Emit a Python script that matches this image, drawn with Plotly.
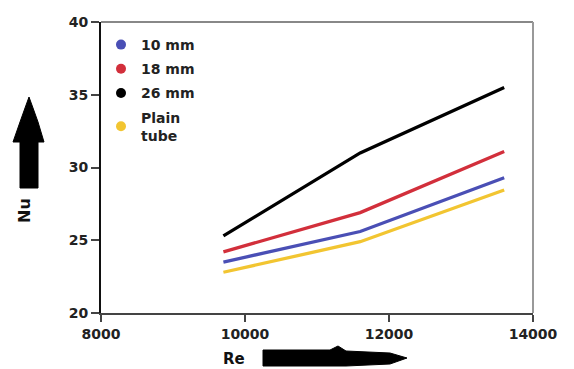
import plotly.graph_objects as go

re_vals = [9700, 11600, 13600]
nu_10mm = [23.5, 25.6, 29.3]
nu_18mm = [24.2, 26.9, 31.1]
nu_26mm = [25.3, 31.0, 35.5]
nu_plain = [22.8, 24.9, 28.45]

series_names = ["10 mm", "18 mm", "26 mm", "Plain<br>tube"]
series_colors = ["#4A4FB5", "#D22F3B", "#000000", "#F2C531"]
series_values = [nu_10mm, nu_18mm, nu_26mm, nu_plain]

x_ticks = [8000, 10000, 12000, 14000]
y_ticks = [20, 25, 30, 35, 40]

FONT = "DejaVu Sans"
fig = go.Figure()
for name, col, vals in zip(series_names, series_colors, series_values):
    fig.add_trace(go.Scatter(x=re_vals, y=vals, mode="lines",
                             line=dict(color=col, width=3.3), showlegend=False))
for i, (name, col) in enumerate(zip(series_names, series_colors)):
    fig.add_trace(go.Scatter(x=[None], y=[None], mode="markers", name=name,
                             marker=dict(color=col, size=10, symbol="circle"),
                             legendgroup=f"g{i}"))

W, H = 574, 369
L, R, T, B = 101, 41, 22, 56
pw, ph = W - L - R, H - T - B

def px(x):
    return (x - L) / pw

def py(y):
    return (H - B - y) / ph

shapes = []
shapes.append(dict(type="line", xref="paper", yref="paper", x0=0, x1=1, y0=1, y1=1,
                   line=dict(color="#888888", width=2)))
shapes.append(dict(type="line", xref="paper", yref="paper", x0=1, x1=1, y0=0, y1=1,
                   line=dict(color="#999999", width=2)))
va = [(29, 97), (33, 108), (38, 122), (44, 142), (38, 142), (38, 188), (20, 188),
      (20, 142), (13, 142), (20, 122), (25, 108)]
path = "M " + " L ".join(f"{px(a)},{py(b)}" for a, b in va) + " Z"
shapes.append(dict(type="path", xref="paper", yref="paper", path=path,
                   fillcolor="black", line=dict(color="black", width=1)))
ha = [(263, 350), (330, 350), (338, 346), (346, 351), (390, 353), (407, 358),
      (390, 364), (346, 366), (263, 366)]
path = "M " + " L ".join(f"{px(a)},{py(b)}" for a, b in ha) + " Z"
shapes.append(dict(type="path", xref="paper", yref="paper", path=path,
                   fillcolor="black", line=dict(color="black", width=1)))

annotations = [
    dict(text="<b>Nu</b>", xref="paper", yref="paper", x=px(24), y=py(211),
         xanchor="center", yanchor="middle",
         textangle=-90, showarrow=False, font=dict(family=FONT, size=16, color="#111")),
    dict(text="<b>Re</b>", xref="paper", yref="paper", x=px(234), y=py(359),
         xanchor="center", yanchor="middle",
         showarrow=False, font=dict(family=FONT, size=15, color="#111")),
]

fig.update_layout(
    width=W, height=H, margin=dict(l=L, r=R, t=T, b=B),
    plot_bgcolor="white", paper_bgcolor="white",
    font=dict(family=FONT, size=14, color="#222"),
    showlegend=True,
    legend=dict(x=px(101), y=py(29), xanchor="left", yanchor="top",
                bgcolor="rgba(0,0,0,0)", traceorder="grouped", tracegroupgap=3,
                font=dict(family=FONT, size=14, color="#222", weight="bold"),
                itemwidth=30),
    xaxis=dict(range=[8000, 14000], tickvals=x_ticks, ticktext=[str(v) for v in x_ticks],
               showgrid=False, zeroline=False, showline=True, linecolor="#444", linewidth=2,
               ticks="outside", ticklen=7, tickwidth=2, tickcolor="#444",
               tickfont=dict(family=FONT, size=14, color="#222", weight="bold")),
    yaxis=dict(range=[20, 40], tickvals=y_ticks, ticktext=[str(v) for v in y_ticks],
               showgrid=False, zeroline=False, showline=True, linecolor="#111", linewidth=2,
               ticks="outside", ticklen=8, tickwidth=2, tickcolor="#444",
               tickfont=dict(family=FONT, size=14, color="#222", weight="bold")),
    shapes=shapes, annotations=annotations,
)
fig.write_html("out.html")
